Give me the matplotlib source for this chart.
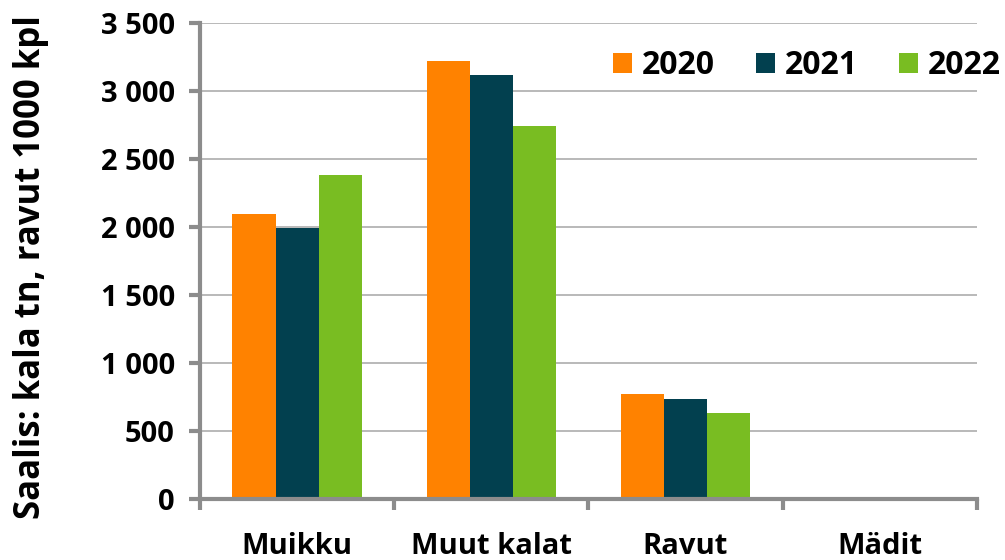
import matplotlib
matplotlib.use("Agg")
import matplotlib.pyplot as plt
import numpy as np
from matplotlib.ticker import FuncFormatter

categories = ["Muikku", "Muut kalat", "Ravut", "Mädit"]
years = ["2020", "2021", "2022"]
values_2020 = [2093, 3216, 772, 0]
values_2021 = [1993, 3115, 731, 0]
values_2022 = [2380, 2743, 630, 0]
colors = ["#FF8200", "#02404F", "#79BD22"]

plt.rcParams["font.family"] = ["Open Sans", "DejaVu Sans"]
plt.rcParams["font.weight"] = "bold"

fig = plt.figure(figsize=(10.05, 5.6), dpi=100)
ax = fig.add_axes([0.199, 0.1095, 0.773, 0.85])

x = np.arange(len(categories))
width = 0.222
series = [values_2020, values_2021, values_2022]
for i, (vals, col, yr) in enumerate(zip(series, colors, years)):
    ax.bar(x + (i - 1) * width, vals, width, color=col, label=yr, zorder=3)

ax.set_ylim(0, 3500)
ax.set_xlim(-0.5, len(categories) - 0.5)
ax.set_yticks(np.arange(0, 3501, 500))
ax.yaxis.set_major_formatter(FuncFormatter(lambda v, p: f"{int(v):,}".replace(",", " ")))
ax.grid(axis="y", color="#b3b3b3", linewidth=1.3, zorder=0)

ax.set_xticks(x)
ax.set_xticklabels(categories, fontsize=21, fontweight="bold")
ax.set_xticks(np.arange(-0.5, len(categories)), minor=True)
ax.tick_params(axis="x", which="major", length=0, pad=24)
ax.tick_params(axis="x", which="minor", length=8, width=3, color="#8c8c8c", direction="out")
ax.tick_params(axis="y", length=8, width=3, color="#8c8c8c", labelsize=21, pad=10)
for lbl in ax.get_yticklabels():
    lbl.set_fontweight("bold")

for side in ["top", "right"]:
    ax.spines[side].set_visible(False)
for side in ["left", "bottom"]:
    ax.spines[side].set_color("#8c8c8c")
    ax.spines[side].set_linewidth(3)
    ax.spines[side].set_zorder(4)

ax.set_ylabel("Saalis: kala tn, ravut 1000 kpl", fontsize=25, fontweight="bold")
ax.yaxis.set_label_coords(-0.195, 0.487)

ax.legend(loc="upper right", bbox_to_anchor=(1.068, 1.005), ncol=3, frameon=False,
          prop={"size": 23, "weight": "bold"}, handlelength=0.6, handleheight=0.6,
          handletextpad=0.3, columnspacing=1.3)

fig.savefig("out.png", dpi=100)
